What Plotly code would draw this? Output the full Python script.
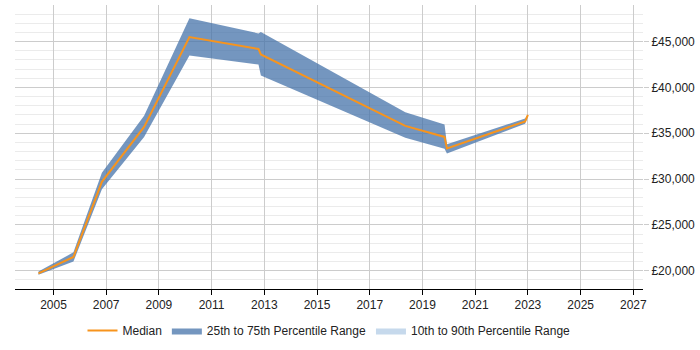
import plotly.graph_objects as go

dates = ["2004-06-07", "2005-10-05", "2006-11-03", "2008-06-10", "2010-02-28",
         "2012-10-12", "2012-11-14", "2018-05-08", "2019-11-03", "2019-12-06",
         "2022-11-24", "2023-01-01"]
median = [19700, 21500, 29700, 35700, 45500, 44200, 43600, 35800, 34600, 33350, 36300, 37000]
p25 = [19550, 21000, 28900, 34600, 43500, 42500, 41300, 34500, 33300, 32800, 36050, 36850]
p75 = [19900, 22000, 30700, 36900, 47550, 45900, 46050, 37300, 35950, 33800, 36600, 37050]

legend_names = ["Median", "25th to 75th Percentile Range", "10th to 90th Percentile Range"]

fig = go.Figure()

# 25-75 band as polygon
fig.add_trace(go.Scatter(
    x=dates + dates[::-1], y=p75 + p25[::-1],
    fill="toself", fillcolor="rgba(70,115,170,0.75)",
    line=dict(width=0), mode="lines", name=legend_names[1],
    hoverinfo="skip", legendrank=2))

# 10-90 legend-only
fig.add_trace(go.Scatter(
    x=[None], y=[None], fill="toself", fillcolor="#c6d9ec",
    line=dict(width=0), mode="lines", name=legend_names[2], legendrank=3))

fig.add_trace(go.Scatter(
    x=dates, y=median, mode="lines", name=legend_names[0],
    line=dict(color="#f7941d", width=2), legendrank=1))

fig.update_layout(
    width=700, height=350,
    margin=dict(l=15, r=57, t=5, b=58),
    paper_bgcolor="white", plot_bgcolor="white",
    font=dict(family="Liberation Sans, Arial, sans-serif", size=12, color="#222"),
    legend=dict(orientation="h", x=0.5, xanchor="center", y=-0.146, yanchor="middle",
                font=dict(size=12, color="#222"), traceorder="normal",
                itemwidth=30),
    showlegend=True,
)

fig.update_xaxes(
    type="date", range=["2003-07-18", "2027-05-15"],
    tick0="2005-01-01", dtick="M24", tickformat="%Y",
    showgrid=True, gridcolor="#cccccc", gridwidth=1,
    showline=True, linecolor="#000000", linewidth=1,
    ticks="outside", ticklen=5, tickcolor="#000000",
    zeroline=False,
)

fig.update_yaxes(
    range=[18000, 49000], side="right",
    dtick=5000, tick0=0, tickprefix="£", tickformat=",",
    showgrid=True, gridcolor="#cccccc", gridwidth=1,
    minor=dict(dtick=1000, showgrid=True, gridcolor="#ebebeb"),
    ticks="outside", ticklen=5, tickcolor="#cccccc",
    showline=False, zeroline=False,
)

fig.write_html("out.html")
